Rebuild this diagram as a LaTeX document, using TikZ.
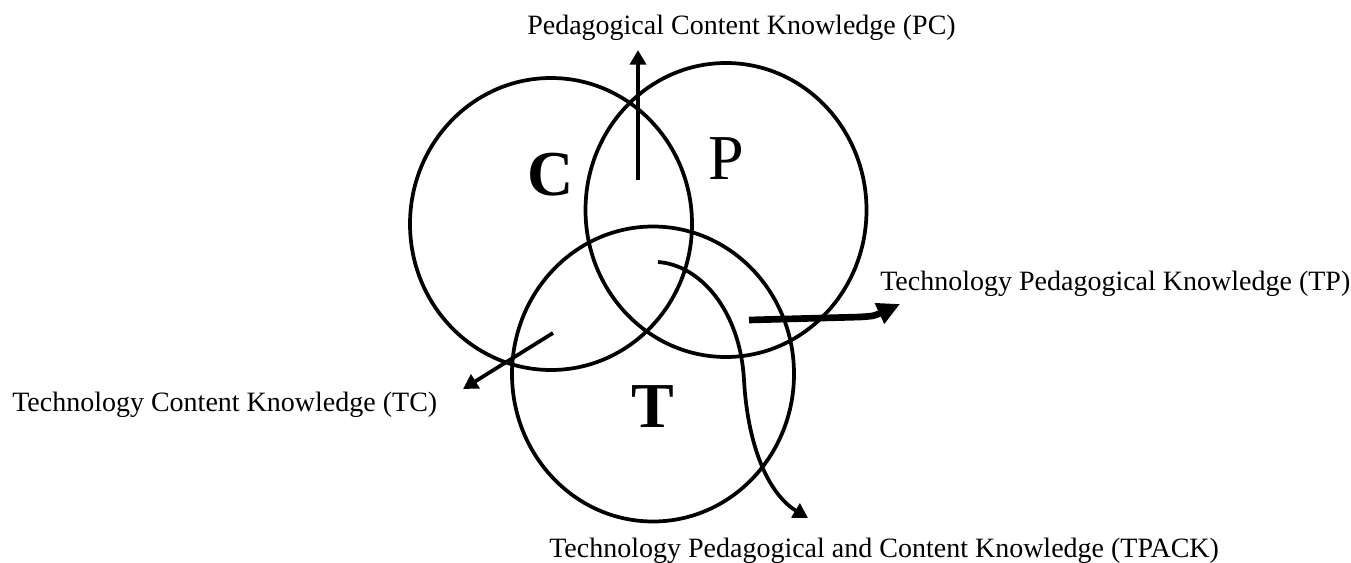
\documentclass[tikz,border=0pt]{standalone}
\usepackage{fontspec}
\setmainfont{Liberation Serif}
\usetikzlibrary{arrows.meta}
\usetikzlibrary{calc}

\begin{document}
\begin{tikzpicture}[x=0.75pt,y=0.75pt,yscale=-1,xscale=1,
  ring/.style={line width=2.8pt},
  lbl/.style={anchor=base west,inner sep=0pt,font=\fontsize{21}{25}\selectfont},
  big/.style={inner sep=0pt,font=\fontsize{48}{56}\selectfont},
  arr/.style={line width=2.8pt,-{Triangle[length=11pt,width=12pt]}},
  fatarr/.style={line width=5pt,-{Triangle[length=17pt,width=16pt]}}]
\useasboundingbox (0,0) rectangle (1351,563);

%Shape: Circle [C]
\draw [ring] (551,224) ellipse [x radius=141, y radius=146];
%Shape: Circle [P]
\draw [ring] (726,210) ellipse [x radius=140.5, y radius=147];
%Shape: Circle [T]
\draw [ring] (653,374) ellipse [x radius=141, y radius=147.5];

% Circle letters
\draw (551,174.5) node (cc) [big] {\textbf{C}};
\draw (726,159) node (pp) [big] {P};
\draw (652.5,407) node (tt) [big] {\textbf{T}};

% Text Node
\draw (527,35) node (pclabel) [lbl] {Pedagogical Content Knowledge (PC)};
% Text Node
\draw (880,290) node (tplabel) [lbl] {Technology Pedagogical Knowledge (TP)};
% Text Node
\draw (12,411) node (tclabel) [lbl] {Technology Content Knowledge (TC)};
% Text Node
\draw (549,557) node (tpacklabel) [lbl] {Technology Pedagogical and Content Knowledge (TPACK)};

% arrow ends
\coordinate (pcfrom) at (638,180);
\coordinate (pcto) at (638,50);
\coordinate (tcfrom) at (553,333);
\coordinate (tcto) at (463,389);
\coordinate (tpfrom) at (749,320);
\coordinate (tpbend) at (860,317);
\coordinate (tpto) at (900,304);
\coordinate (tpackfrom) at (658,262);
\coordinate (tpackmid) at (744,380);
\coordinate (tpackto) at (808,518);

%Straight Lines [PC]
\draw [arr] (pcfrom) -- (pcto);
%Straight Lines [TC]
\draw [arr] (tcfrom) -- (tcto);
%Curve Lines [TP]
\draw [fatarr] (tpfrom) -- (tpbend) .. controls (874,316) .. (tpto);
%Curve Lines [TPACK]
\draw [arr] (tpackfrom) .. controls (700,265) and (740,310) .. (tpackmid) .. controls (748,450) and (770,495) .. (tpackto);

\end{tikzpicture}
\end{document}
